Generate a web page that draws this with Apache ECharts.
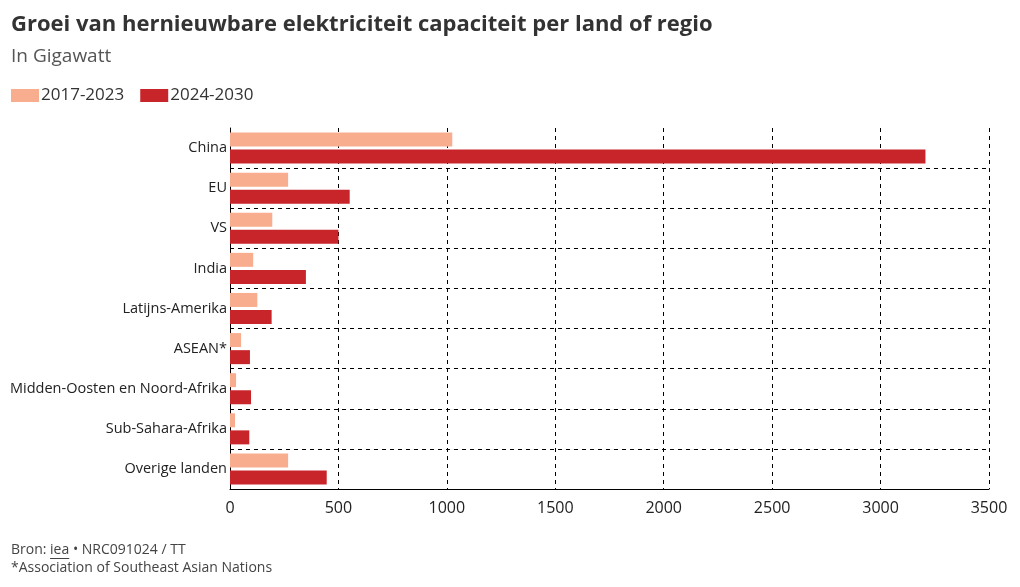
<!DOCTYPE html>
<html><head><meta charset="utf-8">
<script src="https://cdn.jsdelivr.net/npm/echarts@6/dist/echarts.min.js"></script>
<style>html,body{margin:0;padding:0;background:#fff}#c{width:1020px;height:587px}</style>
</head><body><div id="c"></div>
<script>
const categories = ["China","EU","VS","India","Latijns-Amerika","ASEAN*","Midden-Oosten en Noord-Afrika","Sub-Sahara-Afrika","Overige landen"];
const series2017 = [1025, 268, 195, 107, 126, 51, 28, 23, 268];
const series2024 = [3207, 552, 500, 350, 192, 92, 97, 89, 446];
const xTicks = [0, 500, 1000, 1500, 2000, 2500, 3000, 3500];
const FONT = "'Open Sans', sans-serif";

const chart = echarts.init(document.getElementById('c'), null, {renderer:'canvas'});
chart.setOption({
  animation:false,
  textStyle:{fontFamily:FONT},
  title:[
    {text:"Groei van hernieuwbare elektriciteit capaciteit per land of regio", left:11, top:14, padding:0,
     textStyle:{fontSize:22, fontWeight:'bold', color:'#333', fontFamily:FONT}},
    {text:"In Gigawatt", left:11, top:47, padding:0, textStyle:{fontSize:19, fontWeight:'normal', color:'#555', fontFamily:FONT}},
    {text:"Bron: {u|iea} • NRC091024 / TT\n*Association of Southeast Asian Nations", left:11, top:541, padding:0,
     textStyle:{fontSize:14, fontWeight:'normal', color:'#444', lineHeight:18, fontFamily:FONT,
       rich:{u:{fontSize:14, color:'#444', fontFamily:FONT}}}}
  ],
  legend:{left:11, top:87, padding:0, icon:'rect', itemWidth:28, itemHeight:13, itemGap:16,
    textStyle:{fontSize:17, color:'#333', padding:[0,0,0,-3]}, data:["2017-2023","2024-2030"]},
  grid:{left:230, right:31, top:128, bottom:98, containLabel:false},
  xAxis:{type:'value', min:0, max:3500, interval:500,
    axisLine:{show:true, lineStyle:{color:'#000', width:1}},
    axisTick:{show:false},
    axisLabel:{fontSize:16, color:'#222', margin:11, formatter:v=>xTicks.includes(v)?String(v):''},
    splitLine:{show:true, lineStyle:{color:'#000', type:[4,4], width:1}}},
  yAxis:{type:'category', inverse:true, data:categories,
    axisLine:{show:true, lineStyle:{color:'#000'}},
    axisTick:{show:false},
    axisLabel:{fontSize:14.5, color:'#222', margin:3},
    splitLine:{show:true, showMinLine:false, lineStyle:{color:'#000', type:[4,4], width:1}}},
  series:[
    {name:"2017-2023", type:'bar', data:series2017, barWidth:14, barGap:'22%', itemStyle:{color:'#f9ad8f'}},
    {name:"2024-2030", type:'bar', data:series2024, barWidth:14, itemStyle:{color:'#c8252b'}}
  ],
  graphic:[]
});
// underline under "iea"
const ctx = document.createElement('canvas').getContext('2d');
ctx.font = "14px " + FONT;
const x0 = 11 + ctx.measureText("Bron: ").width;
const w = ctx.measureText("iea").width;
chart.setOption({graphic:[{type:'line', shape:{x1:x0, y1:558.5, x2:x0+w, y2:558.5}, style:{stroke:'#444', lineWidth:1}}]});
</script></body></html>
